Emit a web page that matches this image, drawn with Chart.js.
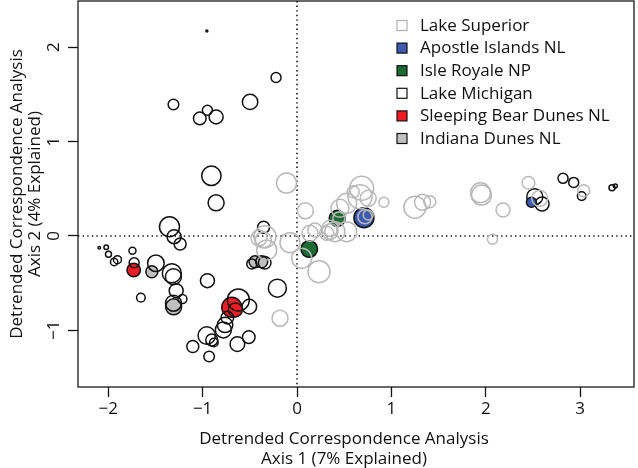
<!DOCTYPE html>
<html>
<head>
<meta charset="utf-8">
<script src="https://cdn.jsdelivr.net/npm/chart.js@4.4.1/dist/chart.umd.min.js"></script>
<style>
html,body{margin:0;padding:0;background:#fff;}
#wrap{width:638px;height:468px;position:relative;}
</style>
</head>
<body>
<div id="wrap"><canvas id="c"></canvas></div>
<script>
// ---- data ----
const groupNames = ["Lake Superior","Apostle Islands NL","Isle Royale NP","Lake Michigan","Sleeping Bear Dunes NL","Indiana Dunes NL"];
const xTicks = [-2,-1,0,1,2,3];
const yTicks = [-1,0,1,2];
const xTitle = ["Detrended Correspondence Analysis","Axis 1 (7% Explained)"];
const yTitle = ["Detrended Correspondence Analysis","Axis 2 (4% Explained)"];

const superiorX = [-0.111,0.088,0.138,-0.074,0.050,0.233,-0.339,-0.321,-0.356,-0.180,0.314,0.349,0.402,0.526,0.455,0.526,0.596,0.685,0.667,0.754,0.921,0.720,0.754,0.444,0.190,1.249,1.330,1.407,1.944,1.954,2.183,2.071,2.452,2.571,3.037,-0.402,0.349];
const superiorY = [0.561,0.268,0.029,-0.071,-0.236,-0.378,-0.007,-0.148,-0.042,-0.871,0.029,0.081,0.046,0.046,0.293,0.346,0.469,0.505,0.416,0.399,0.357,0.204,0.222,0.190,0.063,0.304,0.357,0.363,0.458,0.434,0.275,-0.035,0.564,0.399,0.479,-0.021,0.046];
const superiorR = [10,8,8,10,10,11,11,10,8,8,7,8,10,10,9,10,6,12,12,8,5,7,5,6,7,11,8,6,10,10,7,5,6.3,8,6,8,8];

const apostleX = [0.709,2.483];
const apostleY = [0.194,0.357];
const apostleR = [10,5];

const royaleX = [0.426,0.130];
const royaleY = [0.187,-0.138];
const royaleR = [8,8.3];

const michiganX = [-0.955,-0.222,-1.309,-0.949,-1.030,-0.857,-0.497,-0.907,-0.857,-1.351,
  -1.302,-1.238,-0.354,-2.095,-2.021,-1.997,-1.937,-1.902,-1.743,-1.725,
  -1.495,-1.326,-1.309,-0.949,-1.280,-1.214,-1.654,-1.309,-0.479,-0.342,
  -0.208,-0.621,-0.505,-0.738,-0.780,-0.762,-0.956,-0.903,-0.881,-1.104,
  -0.931,-0.632,-0.511,2.519,2.596,2.818,2.931,3.016,3.337,3.372];
const michiganY = [2.172,1.679,1.394,1.333,1.246,1.262,1.421,0.638,0.352,0.098,
  -0.007,-0.085,0.092,-0.124,-0.120,-0.194,-0.275,-0.251,-0.156,-0.283,
  -0.289,-0.395,-0.431,-0.473,-0.579,-0.667,-0.653,-0.712,-0.296,-0.283,
  -0.553,-0.677,-0.748,-0.865,-0.995,-0.942,-1.055,-1.101,-1.129,-1.171,
  -1.277,-1.146,-1.072,0.416,0.339,0.611,0.568,0.423,0.511,0.529];
const michiganR = [1,5,5.3,5,6.3,7,7.7,9.7,8,10,
  7,6,6,1.3,2.3,3,3.7,4,3.5,5,
  8.3,9.5,8,7,7,4.5,4.3,8,5,6.3,
  9,11,7.3,6.3,8,7.7,8.7,6,4.3,6,
  5.3,7.3,6.3,8,7,5,5,4.3,3,2];

const bearX = [-1.730,-0.691,-0.653];
const bearY = [-0.360,-0.755,-0.783];
const bearR = [6.7,10,7];

const indianaX = [-1.538,-1.307,-0.444,-0.374];
const indianaY = [-0.378,-0.751,-0.272,-0.272];
const indianaR = [6,8,6,6];

// ---- build ----
function pts(xs, ys, rs){ return xs.map((x,i)=>({x:x, y:ys[i], r:rs[i]})); }
const FONT = "'Open Sans', 'DejaVu Sans', sans-serif";
const FS = 17;
const styles = [
  {fill:'rgba(0,0,0,0)', stroke:'#b9b9b9', lfill:'#ffffff', lstroke:'#b0b0b0'},
  {fill:'#3c5bb0', stroke:'#111111', lfill:'#3c5bb0', lstroke:'#111111'},
  {fill:'#1c6a33', stroke:'#111111', lfill:'#1c6a33', lstroke:'#111111'},
  {fill:'rgba(0,0,0,0)', stroke:'#111111', lfill:'#ffffff', lstroke:'#111111'},
  {fill:'#f01e24', stroke:'#111111', lfill:'#f01e24', lstroke:'#111111'},
  {fill:'#c0c0c0', stroke:'#111111', lfill:'#c0c0c0', lstroke:'#111111'}
];
const groupPoints = [
  pts(superiorX, superiorY, superiorR),
  pts(apostleX, apostleY, apostleR),
  pts(royaleX, royaleY, royaleR),
  pts(michiganX, michiganY, michiganR),
  pts(bearX, bearY, bearR),
  pts(indianaX, indianaY, indianaR)
];
const datasets = groupNames.map((name,i)=>({
  label: name,
  data: groupPoints[i],
  backgroundColor: styles[i].fill,
  borderColor: styles[i].stroke,
  borderWidth: 1.5,
  hoverBorderWidth: 1.5,
  legendFill: styles[i].lfill,
  legendStroke: styles[i].lstroke,
  clip: false
}));

function minusFmt(v){ return v < 0 ? '\u2212' + Math.abs(v) : String(v); }

const decorPlugin = {
  id: 'decor',
  beforeDatasetsDraw(chart){
    const {ctx, chartArea:a, scales:{x, y}} = chart;
    ctx.save();
    ctx.strokeStyle = '#111';
    ctx.lineWidth = 1.6;
    ctx.setLineDash([1.4, 3.2]);
    const x0 = x.getPixelForValue(0), y0 = y.getPixelForValue(0);
    ctx.beginPath(); ctx.moveTo(x0, a.top); ctx.lineTo(x0, a.bottom); ctx.stroke();
    ctx.beginPath(); ctx.moveTo(a.left, y0); ctx.lineTo(a.right, y0); ctx.stroke();
    ctx.restore();
  },
  afterDraw(chart){
    const {ctx, chartArea:a, scales:{y}} = chart;
    ctx.save();
    ctx.strokeStyle = '#1a1a1a';
    ctx.lineWidth = 1.3;
    ctx.strokeRect(a.left, a.top, a.right - a.left, a.bottom - a.top);
    ctx.fillStyle = '#111';
    ctx.font = FS + 'px ' + FONT;
    ctx.textAlign = 'center';
    ctx.textBaseline = 'middle';
    // y tick labels, rotated as in R
    y.ticks.forEach(t=>{
      const py = y.getPixelForValue(t.value);
      ctx.save();
      ctx.translate(a.left - 24, py);
      ctx.rotate(-Math.PI/2);
      ctx.fillText(minusFmt(t.value), 0, 0);
      ctx.restore();
    });
    // x axis title
    xTitle.forEach((line, i)=>{
      ctx.fillText(line, 344, 439 + i*20);
    });
    // legend
    const lx = 397, ly0 = 25.5, step = 22.6, bs = 10;
    ctx.textAlign = 'left';
    chart.data.datasets.forEach((ds,i)=>{
      const cy = ly0 + i*step;
      ctx.fillStyle = ds.legendFill;
      ctx.fillRect(lx, cy - bs/2, bs, bs);
      ctx.strokeStyle = ds.legendStroke;
      ctx.lineWidth = 1.2;
      ctx.strokeRect(lx, cy - bs/2, bs, bs);
      ctx.fillStyle = '#111';
      ctx.fillText(ds.label, 420, cy + 0.5);
    });
    ctx.restore();
  }
};

new Chart(document.getElementById('c'), {
  type: 'bubble',
  data: { datasets },
  options: {
    responsive: true,
    maintainAspectRatio: false,
    animation: false,
    events: [],
    layout: { autoPadding: false, padding: { top: 1, right: 4, left: 0, bottom: 0 } },
    plugins: { legend: { display: false }, tooltip: { enabled: false } },
    scales: {
      x: {
        type: 'linear',
        min: -2.32, max: 3.57,
        afterBuildTicks: s => { s.ticks = xTicks.map(v=>({value:v})); },
        afterFit: s => { s.height = 81; s.paddingLeft = 0; s.paddingRight = 0; },
        grid: { drawOnChartArea: false, drawTicks: true, tickLength: 10, tickColor: '#111', tickWidth: 1.3 },
        border: { display: false },
        ticks: { color: '#111', font: { family: FONT, size: FS }, padding: 2, callback: v => minusFmt(v), maxRotation: 0 },
        title: { display: false }
      },
      y: {
        type: 'linear',
        min: -1.6, max: 2.49,
        afterBuildTicks: s => { s.ticks = yTicks.map(v=>({value:v})); },
        afterFit: s => { s.width = 78; s.paddingTop = 0; s.paddingBottom = 0; },
        grid: { drawOnChartArea: false, drawTicks: true, tickLength: 10, tickColor: '#111', tickWidth: 1.3 },
        border: { display: false },
        ticks: { display: false },
        title: { display: true, text: yTitle, color: '#111', font: { family: FONT, size: FS, lineHeight: 1.06 }, padding: { top: 8, bottom: 0 } }
      }
    }
  },
  plugins: [decorPlugin]
});
</script>
</body>
</html>
